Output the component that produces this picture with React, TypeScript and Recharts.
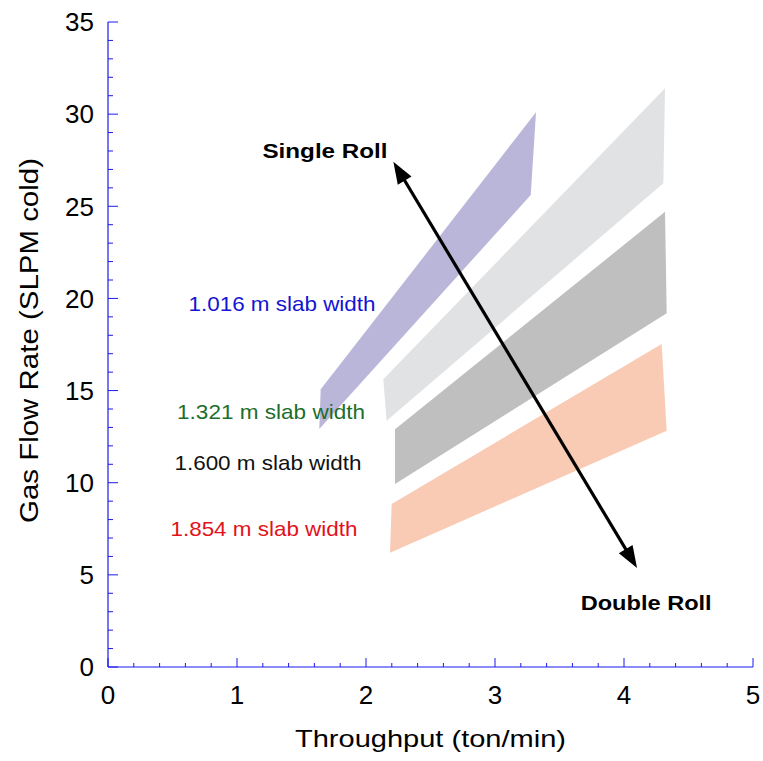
import React, { useLayoutEffect } from "react";
import { ComposedChart, XAxis, YAxis, Scatter, Label } from "recharts";

// ---- data ----
const xMajorTicks = [0, 1, 2, 3, 4, 5];
const xAllTicks = [
  0, 0.2, 0.4, 0.6, 0.8, 1, 1.2, 1.4, 1.6, 1.8, 2, 2.2, 2.4, 2.6, 2.8, 3,
  3.2, 3.4, 3.6, 3.8, 4, 4.2, 4.4, 4.6, 4.8, 5,
];
const yMajorTicks = [0, 5, 10, 15, 20, 25, 30, 35];
const yAllTicks = [
  0, 1, 2, 3, 4, 5, 6, 7, 8, 9, 10, 11, 12, 13, 14, 15, 16, 17, 18, 19, 20,
  21, 22, 23, 24, 25, 26, 27, 28, 29, 30, 31, 32, 33, 34, 35,
];

// band polygons (vertices in order: top-left, top-right, bottom-right, bottom-left)
const band1016 = [
  { x: 1.649, y: 15.07 },
  { x: 3.318, y: 30.1 },
  { x: 3.277, y: 25.61 },
  { x: 1.638, y: 12.91 },
];
const band1321 = [
  { x: 2.134, y: 15.61 },
  { x: 4.318, y: 31.4 },
  { x: 4.305, y: 26.25 },
  { x: 2.16, y: 13.36 },
];
const band1600 = [
  { x: 2.225, y: 12.9 },
  { x: 4.318, y: 24.7 },
  { x: 4.331, y: 19.19 },
  { x: 2.225, y: 9.93 },
];
const band1854 = [
  { x: 2.199, y: 8.84 },
  { x: 4.292, y: 17.53 },
  { x: 4.331, y: 12.82 },
  { x: 2.186, y: 6.2 },
];

const arrowPoints = [
  { x: 2.212, y: 27.42 },
  { x: 4.101, y: 5.37 },
];

const slabLabels = [
  { x: 1.349, y: 19.7, text: "1.016 m slab width", color: "#1414d2", len: 187, bold: false },
  { x: 1.264, y: 13.84, text: "1.321 m slab width", color: "#1d6e2b", len: 188, bold: false },
  { x: 1.24, y: 11.12, text: "1.600 m slab width", color: "#111111", len: 187, bold: false },
  { x: 1.209, y: 7.53, text: "1.854 m slab width", color: "#e3121a", len: 187, bold: false },
];
const rollLabels = [
  { x: 1.682, y: 28.01, text: "Single  Roll", color: "#000000", len: 125, bold: true },
  { x: 4.172, y: 3.49, text: "Double  Roll", color: "#000000", len: 131, bold: true },
];

const bandColors = {
  b1016: "#bab6da",
  b1321: "#e1e2e4",
  b1600: "#bfbfbf",
  b1854: "#f9cab4",
};

// ---- styles ----
const FONT = "'Liberation Sans', Arial, Helvetica, sans-serif";
const AXIS_COLOR = "#1a1aee";
const TICK_FONT = 26;

const XTick = (props: any) => {
  const { x, y, payload } = props;
  const v = payload.value;
  const major = xMajorTicks.some((m) => Math.abs(m - v) < 1e-6);
  const len = major ? 9 : 4;
  return (
    <g>
      <line x1={x} y1={y} x2={x} y2={y - len} stroke={AXIS_COLOR} strokeWidth={1} />
      {major && (
        <text x={x} y={y + 37} textAnchor="middle" fontFamily={FONT} fontSize={TICK_FONT} fill="#000">
          {v}
        </text>
      )}
    </g>
  );
};

const YTick = (props: any) => {
  const { x, y, payload } = props;
  const v = payload.value;
  const major = yMajorTicks.some((m) => Math.abs(m - v) < 1e-6);
  const len = major ? 10 : 5;
  return (
    <g>
      <line x1={x} y1={y} x2={x + len} y2={y} stroke={AXIS_COLOR} strokeWidth={1} />
      {major && (
        <text x={x - 14} y={y + 9.3} textAnchor="end" fontFamily={FONT} fontSize={TICK_FONT} fill="#000">
          {v}
        </text>
      )}
    </g>
  );
};

const XTitle = (props: any) => {
  const vb = props.viewBox || { x: 108, y: 667, width: 645, height: 40 };
  const cx = vb.x + vb.width / 2;
  const by = vb.y + 80;
  return (
    <text
      x={cx}
      y={by}
      textAnchor="middle"
      fontFamily={FONT}
      fontSize={24}
      fill="#000"
      textLength={271}
      lengthAdjust="spacingAndGlyphs"
    >
      Throughput (ton/min)
    </text>
  );
};

const YTitle = (props: any) => {
  const vb = props.viewBox || { x: 48, y: 22, width: 60, height: 645 };
  const cx = vb.x + vb.width - 79;
  const cy = vb.y + vb.height / 2 - 4;
  return (
    <text
      x={cx}
      y={cy + 9}
      textAnchor="middle"
      fontFamily={FONT}
      fontSize={25}
      fill="#000"
      transform={`rotate(-90, ${cx}, ${cy})`}
      textLength={365}
      lengthAdjust="spacingAndGlyphs"
    >
      Gas Flow Rate (SLPM cold)
    </text>
  );
};

const NoShape = () => <g />;

const TextShape = (props: any) => {
  const { cx, cy, payload } = props;
  const fs = 21;
  return (
    <text
      x={cx}
      y={cy + 0.358 * fs}
      textAnchor="middle"
      fontFamily={FONT}
      fontSize={fs}
      fontWeight={payload.bold ? "bold" : "normal"}
      fill={payload.color}
      textLength={payload.len}
      lengthAdjust="spacingAndGlyphs"
    >
      {payload.text}
    </text>
  );
};

const arrowLine = (p: any) => {
  const pts = p.points || [];
  if (pts.length < 2) return <g />;
  const a = pts[0];
  const b = pts[1];
  const dx = b.x - a.x;
  const dy = b.y - a.y;
  const d = Math.sqrt(dx * dx + dy * dy) || 1;
  const ux = dx / d;
  const uy = dy / d;
  const L = 22;
  const W = 8;
  const head = (tx: number, ty: number, sx: number, sy: number) => {
    const bx = tx - sx * L;
    const by = ty - sy * L;
    return `M${tx},${ty} L${bx - sy * W},${by + sx * W} L${bx + sy * W},${by - sx * W} Z`;
  };
  return (
    <g>
      <line
        x1={a.x + ux * L * 0.8}
        y1={a.y + uy * L * 0.8}
        x2={b.x - ux * L * 0.8}
        y2={b.y - uy * L * 0.8}
        stroke="#000"
        strokeWidth={3.2}
      />
      <path d={head(a.x, a.y, -ux, -uy)} fill="#000" />
      <path d={head(b.x, b.y, ux, uy)} fill="#000" />
    </g>
  );
};

export default function App() {
  useLayoutEffect(() => {
    document.body.style.margin = "0";
  }, []);
  return (
    <div style={{ width: 763, height: 761 }}>
      <ComposedChart
        width={763}
        height={753}
        margin={{ top: 22, right: 10, bottom: 46, left: 48 }}
        style={{ overflow: "visible" }}
      >
        <XAxis
          type="number"
          dataKey="x"
          domain={[0, 5]}
          ticks={xAllTicks}
          interval={0}
          allowDataOverflow
          height={40}
          tickSize={0}
          tickMargin={0}
          tickLine={false}
          axisLine={{ stroke: AXIS_COLOR, strokeWidth: 1.2 }}
          tick={<XTick />}
        >
          <Label content={<XTitle />} />
        </XAxis>
        <YAxis
          type="number"
          dataKey="y"
          domain={[0, 35]}
          ticks={yAllTicks}
          interval={0}
          allowDataOverflow
          width={60}
          tickSize={0}
          tickMargin={0}
          tickLine={false}
          axisLine={{ stroke: AXIS_COLOR, strokeWidth: 1.2 }}
          tick={<YTick />}
        >
          <Label content={<YTitle />} />
        </YAxis>

        <Scatter
          data={band1016}
          shape={<NoShape />}
          line={{ fill: bandColors.b1016, stroke: "none" }}
          lineJointType="linear"
          isAnimationActive={false}
        />
        <Scatter
          data={band1321}
          shape={<NoShape />}
          line={{ fill: bandColors.b1321, stroke: "none" }}
          lineJointType="linear"
          isAnimationActive={false}
        />
        <Scatter
          data={band1600}
          shape={<NoShape />}
          line={{ fill: bandColors.b1600, stroke: "none" }}
          lineJointType="linear"
          isAnimationActive={false}
        />
        <Scatter
          data={band1854}
          shape={<NoShape />}
          line={{ fill: bandColors.b1854, stroke: "none" }}
          lineJointType="linear"
          isAnimationActive={false}
        />
        <Scatter
          data={arrowPoints}
          shape={<NoShape />}
          line={arrowLine}
          isAnimationActive={false}
        />
        <Scatter data={slabLabels} shape={<TextShape />} isAnimationActive={false} />
        <Scatter data={rollLabels} shape={<TextShape />} isAnimationActive={false} />
      </ComposedChart>
    </div>
  );
}
